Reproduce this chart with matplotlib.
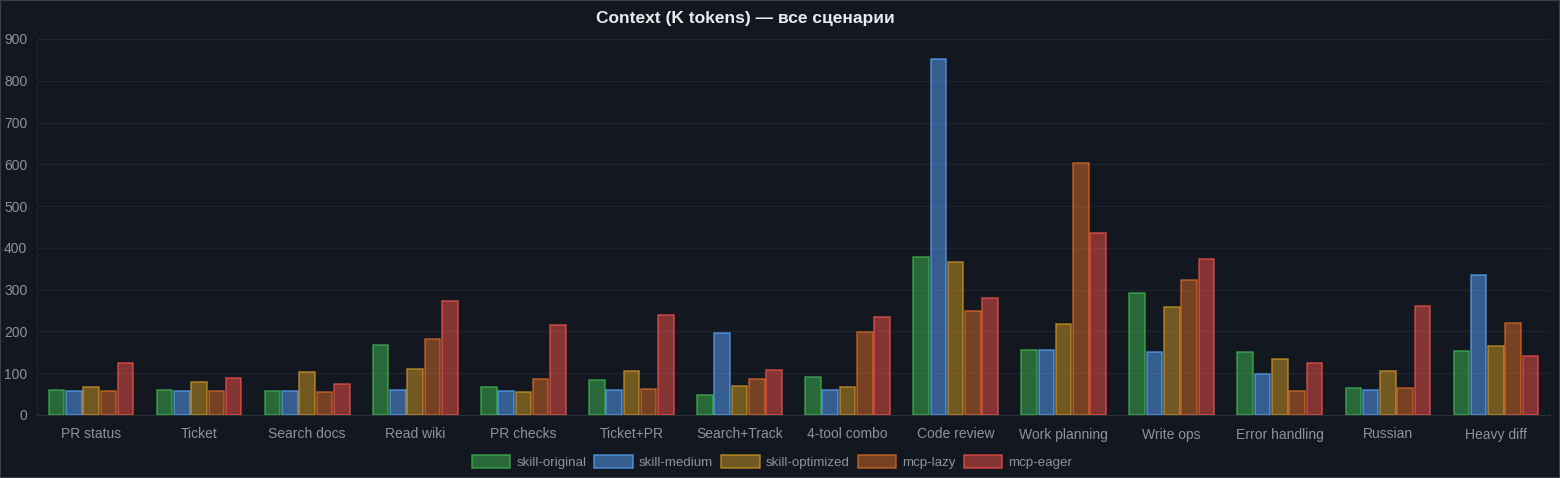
import matplotlib
matplotlib.use("Agg")
import matplotlib.pyplot as plt
import numpy as np
from matplotlib.patches import Rectangle

categories = ["PR status", "Ticket", "Search docs", "Read wiki", "PR checks", "Ticket+PR",
              "Search+Track", "4-tool combo", "Code review", "Work planning", "Write ops",
              "Error handling", "Russian", "Heavy diff"]
series_names = ["skill-original", "skill-medium", "skill-optimized", "mcp-lazy", "mcp-eager"]
skill_original = [60, 61, 58, 168, 68, 83, 48, 92, 377, 156, 291, 151, 65, 154]
skill_medium = [57, 57, 57, 61, 58, 59, 196, 61, 851, 156, 150, 98, 61, 335]
skill_optimized = [68, 78, 103, 110, 54, 105, 69, 66, 367, 217, 259, 134, 106, 164]
mcp_lazy = [58, 57, 56, 183, 87, 63, 85, 199, 249, 602, 324, 57, 64, 221]
mcp_eager = [124, 88, 75, 274, 215, 239, 108, 234, 279, 436, 373, 124, 262, 142]
yticks = [0, 100, 200, 300, 400, 500, 600, 700, 800, 900]

series = [skill_original, skill_medium, skill_optimized, mcp_lazy, mcp_eager]
edge_colors = ["#3fb950", "#58a6ff", "#d29922", "#db6d28", "#f85149"]

BG = "#131720"
plt.rcParams['font.family'] = ['Liberation Sans', 'DejaVu Sans']

fig = plt.figure(figsize=(15.6, 4.78), dpi=100, facecolor=BG)
ax = fig.add_axes([37/1560, 1-415/478, (1550-37)/1560, (415-39)/478], facecolor=BG)

x = np.arange(len(categories))
slot = 0.8 / len(series)
bw = slot * 0.9
handles = []
for i, (vals, name, ec) in enumerate(zip(series, series_names, edge_colors)):
    off = -0.4 + slot * (i + 0.5)
    rgb = matplotlib.colors.to_rgb(ec)
    bars = ax.bar(x + off, vals, width=bw, facecolor=(*rgb, 0.5),
                  edgecolor=(*rgb, 0.75), linewidth=1.1, label=name, zorder=3)
    handles.append(bars)

ax.set_xlim(-0.5, len(categories) - 0.5)
ax.set_ylim(0, 900)
ax.set_yticks(yticks)
ax.set_xticks(x)
ax.set_xticklabels(categories)
ax.tick_params(axis='both', colors="#8b949e", labelsize=10, length=0)
ax.tick_params(axis='y', pad=7)
ax.tick_params(axis='x', pad=9)
ax.grid(axis='y', color="#1f2530", linewidth=1, zorder=0)
ax.grid(axis='x', visible=False)
for s in ["top", "right"]:
    ax.spines[s].set_visible(False)
ax.spines["left"].set_color("#1f2530")
ax.spines["bottom"].set_color("#2a303a")

fig.text(745/1560, 1-18/478, "Context (K tokens) — все сценарии", color="#e6edf3",
         fontsize=12.5, fontweight="bold", ha="center", va="center")

fig.legend(handles=handles, labels=series_names, loc="center", ncol=5,
           bbox_to_anchor=(772/1560, 1-462/478), frameon=False, fontsize=9.6,
           labelcolor="#8b949e", handlelength=2.9, handleheight=1.05,
           handletextpad=0.45, columnspacing=0.6)

fig.add_artist(Rectangle((0, 0), 1, 1, transform=fig.transFigure, fill=False,
                         edgecolor="#3a3f47", linewidth=1.5))

fig.savefig("out.png", dpi=100, facecolor=BG)
